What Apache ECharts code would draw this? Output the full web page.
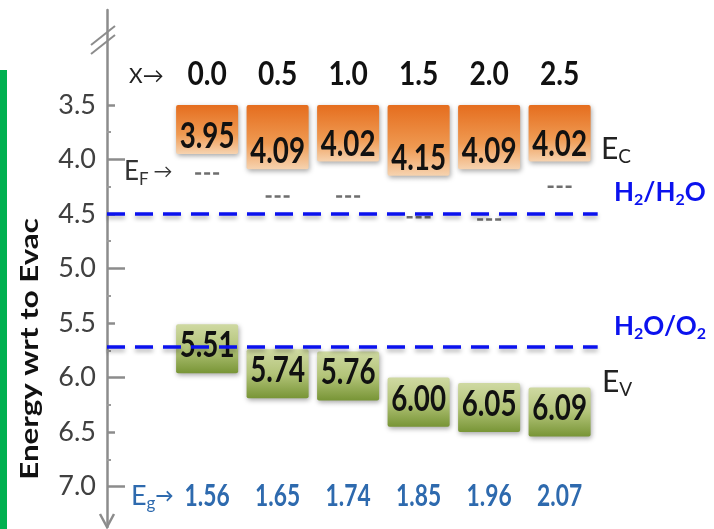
<!DOCTYPE html>
<html>
<head>
<meta charset="utf-8">
<script src="https://cdn.jsdelivr.net/npm/echarts@6/dist/echarts.min.js"></script>
<style>html,body{margin:0;padding:0;background:#fff;}#c{width:714px;height:529px;}</style>
</head>
<body>
<div id="c"></div>
<script>
// ---- data ----
const xs = [0.0, 0.5, 1.0, 1.5, 2.0, 2.5];
const ec = [3.95, 4.09, 4.02, 4.15, 4.09, 4.02];   // conduction band edge
const ev = [5.51, 5.74, 5.76, 6.00, 6.05, 6.09];   // valence band edge
const ef = [4.13, 4.34, 4.34, 4.53, 4.55, 4.25];   // Fermi level markers
const eg = [1.56, 1.65, 1.74, 1.85, 1.96, 2.07];   // band gaps
const yTickLabels = [3.5, 4.0, 4.5, 5.0, 5.5, 6.0, 6.5, 7.0];
const yMajorTicks = [4.0, 5.0, 6.0, 7.0];
const yHalfTicks = [3.5, 4.5, 5.5, 6.5];
const yQuarterTicks = [3.75, 4.25, 4.75, 5.25, 5.75, 6.25, 6.75];
const waterLevels = [4.5, 5.72];

// ---- layout constants ----
const Y_MIN = 2.63, Y_MAX = 7.37;
const X_MIN = -0.71, X_MAX = 3.29;
const CB_TOP = 3.5;          // top of conduction-band boxes
const VB_DEPTH = 0.45;       // drawn depth of valence-band boxes
const BOX_HALF = 0.22;       // half width of boxes (x units)
const ROW_X_Y = 3.22;        // row of composition labels
const ROW_EG_Y = 7.09;       // row of band-gap labels
const LINE_X0 = -0.71, LINE_X1 = 2.77;

const chart = echarts.init(document.getElementById('c'));

function boxSeries(data, fillStops, labelAt) {
  return {
    type: 'custom', xAxisIndex: 0, yAxisIndex: 0, data: data, silent: true,
    renderItem: function (params, api) {
      const x = api.value(0), y0 = api.value(1), y1 = api.value(2);
      const a = api.coord([x - BOX_HALF, y0]);
      const b = api.coord([x + BOX_HALF, y1]);
      const cx = (a[0] + b[0]) / 2;
      const ty = labelAt === 'bottom' ? b[1] - 18 : a[1] + 21;
      return {
        type: 'group',
        children: [
          { type: 'rect',
            shape: { x: a[0], y: a[1], width: b[0] - a[0], height: b[1] - a[1], r: 2 },
            style: { fill: new echarts.graphic.LinearGradient(0, 0, 0, 1, fillStops),
                     shadowBlur: 5, shadowColor: 'rgba(0,0,0,0.35)', shadowOffsetX: 1, shadowOffsetY: 2 } },
          { type: 'text', x: cx, y: ty, scaleX: 0.75,
            style: { text: api.value(3).toFixed(2), font: 'bold 37px Lato', fill: '#111',
                     align: 'center', verticalAlign: 'middle', textAlign: 'center', textVerticalAlign: 'middle' } }
        ]
      };
    }
  };
}

function textRow(data, rowY, fmt, font, color, sx) {
  return {
    type: 'custom', xAxisIndex: 0, yAxisIndex: 0, data: data, silent: true,
    renderItem: function (params, api) {
      const p = api.coord([api.value(0), rowY]);
      return { type: 'text', x: p[0], y: p[1], scaleX: sx,
        style: { text: fmt(api.value(0), api.value(1)), font: font, fill: color,
                 align: 'center', verticalAlign: 'middle', textAlign: 'center', textVerticalAlign: 'middle' } };
    }
  };
}

const axisCommon = { type: 'value', inverse: true, min: Y_MIN, max: Y_MAX, position: 'left', splitLine: { show: false } };

const option = {
  animation: false,
  backgroundColor: '#ffffff',
  grid: { left: 107, right: 43, top: 10, bottom: 2 },
  xAxis: { type: 'value', min: X_MIN, max: X_MAX, show: false },
  yAxis: [
    Object.assign({}, axisCommon, {
      axisLine: { show: true, onZero: false, lineStyle: { color: '#8c8c8c', width: 2.5 } },
      axisTick: { show: true, inside: true, length: 18, customValues: yMajorTicks, lineStyle: { color: '#8c8c8c', width: 2.5 } },
      axisLabel: { show: true, customValues: yTickLabels, formatter: v => v.toFixed(1), fontFamily: 'Lato', fontSize: 27, color: '#404040', margin: 11 }
    }),
    Object.assign({}, axisCommon, {
      axisLine: { show: false, onZero: false }, axisLabel: { show: false },
      axisTick: { show: true, inside: true, length: 8, customValues: yHalfTicks, lineStyle: { color: '#8c8c8c', width: 2.5 } }
    }),
    Object.assign({}, axisCommon, {
      axisLine: { show: false, onZero: false }, axisLabel: { show: false },
      axisTick: { show: true, inside: true, length: 4, customValues: yQuarterTicks, lineStyle: { color: '#9a9a9a', width: 2 } }
    })
  ],
  series: [
    boxSeries(xs.map((x, i) => [x, CB_TOP, ec[i], ec[i]]),
      [{ offset: 0, color: '#E56D1E' }, { offset: 0.6, color: '#EF9A52' }, { offset: 1, color: '#F6D3B0' }], 'bottom'),
    boxSeries(xs.map((x, i) => [x, ev[i], ev[i] + VB_DEPTH, ev[i]]),
      [{ offset: 0, color: '#CFD9A2' }, { offset: 0.5, color: '#B3C479' }, { offset: 1, color: '#789536' }], 'top'),
    {
      type: 'custom', xAxisIndex: 0, yAxisIndex: 0, silent: true,
      data: xs.map((x, i) => [x, ef[i]]),
      renderItem: function (params, api) {
        const p = api.coord([api.value(0), api.value(1)]);
        return { type: 'line', shape: { x1: p[0] - 12, y1: p[1], x2: p[0] + 12, y2: p[1] },
          style: { stroke: '#6e6e6e', lineWidth: 2.5, lineDash: [6, 3] } };
      }
    },
    textRow(xs.map(x => [x, 0]), ROW_X_Y, (x) => x.toFixed(1), 'bold 32px Lato', '#111', 0.88),
    textRow(xs.map((x, i) => [x, eg[i]]), ROW_EG_Y, (x, g) => g.toFixed(2), 'bold 30px Lato', '#2E6AAE', 0.76),
  ].concat(waterLevels.map(w => ({
    type: 'line', xAxisIndex: 0, yAxisIndex: 0, silent: true, symbol: 'none',
    data: [[LINE_X0, w], [LINE_X1, w]],
    lineStyle: { color: '#0B12EE', width: 3.5, type: [18, 10],
                 shadowColor: 'rgba(0,0,0,0.3)', shadowBlur: 4, shadowOffsetY: 3 }
  }))),
  graphic: [
    { type: 'rect', shape: { x: 0, y: 70, width: 7, height: 459 }, style: { fill: '#00B050' } },
    { type: 'text', x: 30, y: 349, rotation: Math.PI / 2, scaleX: 1.25,
      style: { text: 'Energy wrt to Evac', font: 'bold 25px Lato', fill: '#111',
               align: 'center', verticalAlign: 'middle', textAlign: 'center', textVerticalAlign: 'middle' } },
    { type: 'line', shape: { x1: 91, y1: 45, x2: 115, y2: 26 }, style: { stroke: '#8c8c8c', lineWidth: 2 } },
    { type: 'line', shape: { x1: 91, y1: 54, x2: 115, y2: 35 }, style: { stroke: '#8c8c8c', lineWidth: 2 } },
    { type: 'polyline', shape: { points: [[100, 514], [107, 527], [114, 514]] }, style: { stroke: '#8c8c8c', lineWidth: 2.5, fill: null } },
    { type: 'text', x: 129, y: 76, style: { text: 'X→', font: '21px Lato', fill: '#222', verticalAlign: 'middle', textVerticalAlign: 'middle' } },
    { type: 'text', x: 124, y: 156, style: { text: '{e|E}{s|F}{a| →}', rich: {
        e: { font: '26px Lato', fill: '#333', lineHeight: 32, verticalAlign: 'middle' },
        s: { font: '17px Lato', fill: '#333', lineHeight: 17, verticalAlign: 'bottom' },
        a: { font: '19px Lato', fill: '#333', lineHeight: 32, verticalAlign: 'middle' } } } },
    { type: 'text', x: 601, y: 133, style: { text: '{e|E}{s|C}', rich: {
        e: { font: '30px Lato', fill: '#222', lineHeight: 33, verticalAlign: 'middle' },
        s: { font: '19px Lato', fill: '#222', lineHeight: 19, verticalAlign: 'bottom' } } } },
    { type: 'text', x: 602, y: 366, style: { text: '{e|E}{s|V}', rich: {
        e: { font: '30px Lato', fill: '#222', lineHeight: 33, verticalAlign: 'middle' },
        s: { font: '19px Lato', fill: '#222', lineHeight: 19, verticalAlign: 'bottom' } } } },
    { type: 'text', x: 614, y: 177, style: { text: '{m|H}{s|2}{m|/H}{s|2}{m|O}', rich: {
        m: { font: 'bold 26px Lato', fill: '#0B12EE', lineHeight: 31, verticalAlign: 'middle' },
        s: { font: 'bold 16px Lato', fill: '#0B12EE', lineHeight: 16, verticalAlign: 'bottom' } } } },
    { type: 'text', x: 614, y: 311, style: { text: '{m|H}{s|2}{m|O/O}{s|2}', rich: {
        m: { font: 'bold 26px Lato', fill: '#0B12EE', lineHeight: 31, verticalAlign: 'middle' },
        s: { font: 'bold 16px Lato', fill: '#0B12EE', lineHeight: 16, verticalAlign: 'bottom' } } } },
    { type: 'text', x: 131, y: 481, style: { text: '{e|E}{s|g}{a|→}', rich: {
        e: { font: '27px Lato', fill: '#2E6AAE', lineHeight: 31, verticalAlign: 'middle' },
        s: { font: '17px Lato', fill: '#2E6AAE', lineHeight: 17, verticalAlign: 'bottom' },
        a: { font: 'bold 18px Lato', fill: '#2E6AAE', lineHeight: 31, verticalAlign: 'middle' } } } }
  ]
};
chart.setOption(option);
</script>
</body>
</html>
